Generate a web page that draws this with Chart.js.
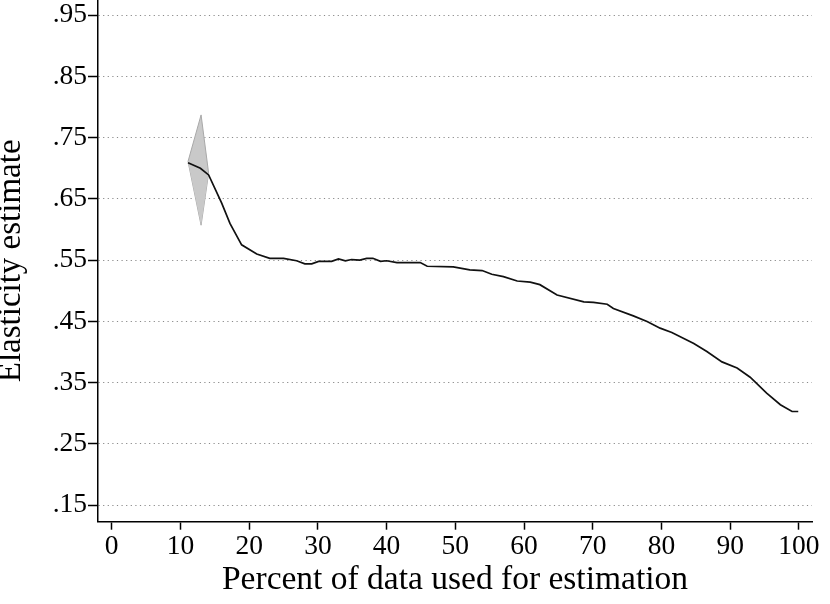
<!DOCTYPE html>
<html>
<head>
<meta charset="utf-8">
<script src="https://cdn.jsdelivr.net/npm/chart.js@4.4.1/dist/chart.umd.min.js"></script>
<style>
  html, body { margin:0; padding:0; background:#fff; }
  #wrap { width:830px; height:604px; }
</style>
</head>
<body>
<div id="wrap"><canvas id="elastChart" width="830" height="604"></canvas></div>
<script>
// ====== Datos ======
const pct = [11.1, 12.9, 14.1, 16.0, 17.2, 18.9, 21.1, 23.0, 25.0, 26.9, 28.1, 29.1, 30.1, 32.0, 33.0,
             34.0, 34.9, 36.1, 37.1, 38.0, 39.1, 40.0, 41.5, 44.9, 45.9, 49.7, 52.1, 53.9, 55.3, 57.0,
             59.0, 60.9, 62.3, 64.8, 68.7, 70.1, 72.1, 73.0, 75.9, 77.9, 79.8, 81.5, 84.7, 86.6, 88.8,
             91.0, 92.9, 95.3, 97.3, 99.0, 99.9];
const est = [.709, .700, .689, .643, .610, .575, .560, .553, .553, .549, .544, .544, .548, .548, .552,
             .549, .551, .550, .553, .553, .548, .549, .546, .546, .540, .539, .534, .533, .527, .523,
             .516, .514, .510, .493, .482, .481, .478, .471, .459, .450, .439, .432, .414, .401, .384,
             .374, .359, .333, .314, .303, .303];

// banda de confianza (solo al inicio)
const bandPct = [11.1, 13.0, 14.1];
const bandHi  = [.711, .787, .692];
const bandLo  = [.711, .607, .692];

const xTicks = [0, 10, 20, 30, 40, 50, 60, 70, 80, 90, 100];
const yTicks = [.15, .25, .35, .45, .55, .65, .75, .85, .95];

const xTitle = 'Percent of data used for estimation';
const yTitle = 'Elasticity estimate';

// ====== Helpers ======
const pts = (xs, ys) => xs.map((x, i) => ({ x, y: ys[i] }));
const FONT = "'Liberation Serif', 'DejaVu Serif', serif";
const noPad = s => { s.paddingTop = 0; s.paddingBottom = 0; s.paddingLeft = 0; s.paddingRight = 0; };

// ====== Chart ======
const ctx = document.getElementById('elastChart').getContext('2d');
new Chart(ctx, {
  type: 'line',
  data: {
    datasets: [
      { label: 'est', data: pts(pct, est), borderColor: '#111', borderWidth: 1.7,
        pointRadius: 0, tension: 0, fill: false },
      { label: 'hi', data: pts(bandPct, bandHi), borderColor: '#a8a8a8', borderWidth: 1,
        backgroundColor: '#c9c9c9', pointRadius: 0, tension: 0, fill: '+1' },
      { label: 'lo', data: pts(bandPct, bandLo), borderColor: '#a8a8a8', borderWidth: 1,
        pointRadius: 0, tension: 0, fill: false }
    ]
  },
  options: {
    responsive: false,
    animation: false,
    devicePixelRatio: 1,
    layout: { padding: { top: 0, right: 18, bottom: 0, left: 0 } },
    plugins: { legend: { display: false }, tooltip: { enabled: false } },
    scales: {
      x: {
        type: 'linear',
        min: -2, max: 101.9,
        afterBuildTicks: s => { s.ticks = xTicks.map(v => ({ value: v })); },
        afterFit: s => { s.height = 82.3; noPad(s); },
        border: { display: true, color: '#000', width: 1.5 },
        grid: { drawOnChartArea: false, drawTicks: true, tickLength: 8,
                tickColor: '#000', tickWidth: 1.5 },
        ticks: { color: '#000', padding: 1, maxRotation: 0, autoSkip: false,
                 font: { family: FONT, size: 27.5 } },
        title: { display: true, text: xTitle, color: '#000', padding: { top: 0, bottom: 4 },
                 font: { family: FONT, size: 33.5, lineHeight: 1.2 } }
      },
      y: {
        type: 'linear',
        min: 0.1232, max: 0.9745,
        afterBuildTicks: s => { s.ticks = yTicks.map(v => ({ value: v })); },
        afterFit: s => { s.width = 98; noPad(s); },
        border: { display: true, color: '#000', width: 1.5, dash: [1.2, 3.4] },
        grid: { color: '#8a8a8a', lineWidth: 1,
                drawTicks: true, tickLength: 10, tickColor: '#000', tickWidth: 1.5, tickBorderDash: [] },
        ticks: { color: '#000', padding: 1, autoSkip: false,
                 callback: v => v.toFixed(2).replace(/^0/, ''),
                 font: { family: FONT, size: 27.5 } },
        title: { display: true, text: yTitle, color: '#000', padding: { top: 1, bottom: 0 },
                 font: { family: FONT, size: 33, lineHeight: 0.6 } }
      }
    }
  }
});
</script>
</body>
</html>
